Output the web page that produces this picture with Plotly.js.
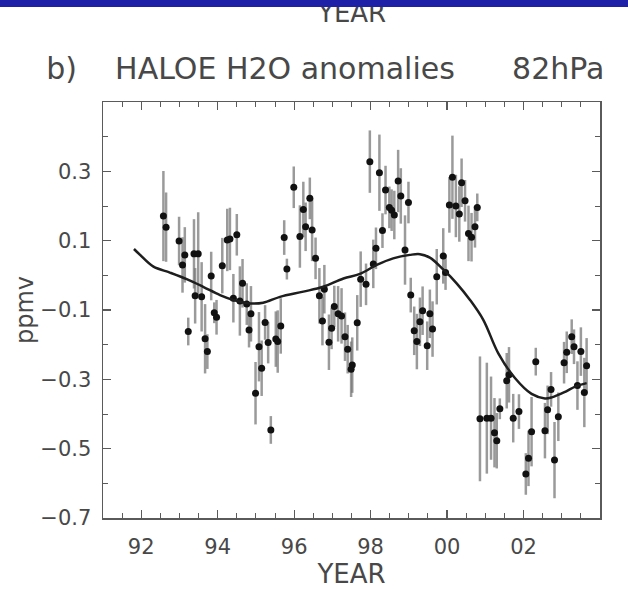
<!DOCTYPE html>
<html>
<head>
<meta charset="utf-8">
<script src="https://cdn.plot.ly/plotly-3.0.1.min.js"></script>
<style>
  html, body { margin: 0; padding: 0; background: #ffffff; }
  #wrap { position: relative; width: 628px; height: 589px; overflow: hidden; }
  #chart { position: absolute; left: 0; top: 0; width: 628px; height: 589px; }
  #topbar { position: absolute; left: 0; top: 0; width: 628px; height: 7px; background: #1f20a8; z-index: 10; }
</style>
</head>
<body>
<div id="wrap">
  <div id="chart"></div>
  <div id="topbar"></div>
</div>
<script>
// ---- monthly HALOE H2O anomalies at 82 hPa (ppmv) ----
const years = [
  1992.58, 1992.65, 1992.99, 1993.08, 1993.14, 1993.23, 1993.38, 1993.41, 1993.49, 1993.58,
  1993.67, 1993.73, 1993.83, 1993.91, 1993.97, 1994.12, 1994.25, 1994.32, 1994.41, 1994.50,
  1994.58, 1994.65, 1994.76, 1994.82, 1994.87, 1994.99, 1995.08, 1995.15, 1995.24, 1995.32,
  1995.39, 1995.52, 1995.57, 1995.65, 1995.74, 1995.81, 1995.99, 1996.15, 1996.24, 1996.30,
  1996.41, 1996.47, 1996.56, 1996.66, 1996.74, 1996.79, 1996.91, 1996.98, 1997.05, 1997.15,
  1997.24, 1997.33, 1997.40, 1997.49, 1997.52, 1997.65, 1997.74, 1997.88, 1997.98, 1998.07,
  1998.14, 1998.23, 1998.31, 1998.39, 1998.49, 1998.55, 1998.62, 1998.72, 1998.79, 1998.90,
  1998.99, 1999.05, 1999.14, 1999.21, 1999.29, 1999.36, 1999.48, 1999.55, 1999.62, 1999.73,
  1999.90, 1999.96, 2000.06, 2000.14, 2000.23, 2000.32, 2000.38, 2000.47, 2000.56, 2000.64,
  2000.73, 2000.79, 2000.86, 2001.04, 2001.15, 2001.24, 2001.30, 2001.38, 2001.56, 2001.62,
  2001.73, 2001.88, 2002.06, 2002.13, 2002.21, 2002.32, 2002.56, 2002.63, 2002.72, 2002.81,
  2002.91, 2003.06, 2003.13, 2003.26, 2003.32, 2003.41, 2003.50, 2003.59, 2003.65
];
const anomalies = [
  0.171, 0.139, 0.099, 0.030, 0.059, -0.162, 0.062, -0.059, 0.062, -0.062,
  -0.183, -0.220, -0.002, -0.108, -0.121, 0.028, 0.102, 0.105, -0.066, 0.117,
  -0.074, -0.023, -0.083, -0.158, -0.111, -0.340, -0.206, -0.268, -0.136, -0.194,
  -0.446, -0.184, -0.191, -0.146, 0.109, 0.018, 0.254, 0.112, 0.190, 0.140,
  0.222, 0.131, 0.049, -0.059, -0.132, -0.040, -0.193, -0.153, -0.090, -0.111,
  -0.117, -0.177, -0.213, -0.271, -0.259, -0.137, -0.011, -0.026, 0.328, 0.033,
  0.078, 0.296, 0.129, 0.246, 0.196, 0.188, 0.174, 0.272, 0.229, 0.073,
  0.210, -0.057, -0.160, -0.191, -0.134, -0.102, -0.203, -0.111, -0.155, -0.004,
  0.056, 0.008, 0.203, 0.283, 0.200, 0.177, 0.267, 0.215, 0.121, 0.110,
  0.140, 0.196, -0.414, -0.412, -0.412, -0.454, -0.477, -0.385, -0.304, -0.287,
  -0.412, -0.393, -0.573, -0.528, -0.451, -0.249, -0.448, -0.388, -0.329, -0.533,
  -0.408, -0.252, -0.222, -0.177, -0.206, -0.318, -0.220, -0.338, -0.261
];
const errors = [
  0.13, 0.10, 0.07, 0.08, 0.08, 0.04, 0.10, 0.08, 0.12, 0.10,
  0.10, 0.05, 0.07, 0.03, 0.05, 0.08, 0.09, 0.09, 0.07, 0.06,
  0.10, 0.07, 0.06, 0.05, 0.08, 0.09, 0.10, 0.08, 0.05, 0.06,
  0.04, 0.08, 0.09, 0.08, 0.05, 0.03, 0.06, 0.09, 0.08, 0.07,
  0.06, 0.09, 0.06, 0.08, 0.07, 0.07, 0.08, 0.06, 0.06, 0.08,
  0.08, 0.07, 0.07, 0.08, 0.08, 0.08, 0.08, 0.06, 0.09, 0.07,
  0.06, 0.11, 0.05, 0.07, 0.06, 0.06, 0.07, 0.09, 0.08, 0.10,
  0.06, 0.05, 0.07, 0.08, 0.07, 0.07, 0.07, 0.07, 0.08, 0.08,
  0.08, 0.05, 0.08, 0.12, 0.09, 0.08, 0.07, 0.06, 0.08, 0.07,
  0.06, 0.04, 0.18, 0.16, 0.12, 0.10, 0.08, 0.03, 0.08, 0.08,
  0.07, 0.05, 0.06, 0.08, 0.10, 0.04, 0.08, 0.07, 0.05, 0.11,
  0.07, 0.06, 0.06, 0.05, 0.05, 0.07, 0.07, 0.10, 0.08
];
// ---- smooth fit curve ----
const fitYears = [
  1991.81, 1991.97, 1992.32, 1992.75, 1993.19, 1993.62, 1994.06, 1994.41, 1994.85, 1995.19,
  1995.63, 1996.24, 1996.76, 1997.29, 1997.72, 1998.16, 1998.59, 1999.03, 1999.29, 1999.55,
  1999.90, 2000.25, 2000.60, 2000.95, 2001.34, 2001.78, 2002.21, 2002.56, 2002.74, 2003.09,
  2003.35, 2003.65
];
const fitValues = [
  0.076, 0.059, 0.025, 0.008, -0.011, -0.033, -0.057, -0.071, -0.081, -0.079,
  -0.062, -0.047, -0.033, -0.009, 0.004, 0.030, 0.049, 0.059, 0.061, 0.051,
  0.017, -0.023, -0.071, -0.129, -0.225, -0.297, -0.342, -0.355, -0.352, -0.336,
  -0.321, -0.311
];
// ---- axis ticks and labels ----
const xTickVals = [1992, 1994, 1996, 1998, 2000, 2002];
const xTickText = ['92', '94', '96', '98', '00', '02'];
const yTickVals = [-0.7, -0.5, -0.3, -0.1, 0.1, 0.3];
const yTickText = ['\u22120.7', '\u22120.5', '\u22120.3', '\u22120.1', '0.1', '0.3'];
const titleText = 'b)\u00a0\u00a0\u00a0\u00a0HALOE H2O anomalies\u00a0\u00a0\u00a0\u00a0\u00a0\u00a082hPa';
const xTitle = 'YEAR';
const yTitle = 'ppmv';

const FONT = 'DejaVu Sans, Liberation Sans, sans-serif';
const TXT = '#484848';
const AX = '#5a5a5a';

const points = {
  x: years, y: anomalies, type: 'scatter', mode: 'markers',
  marker: { color: '#111111', size: 7, symbol: 'circle' },
  error_y: { type: 'data', array: errors, visible: true, color: 'rgba(120,120,120,0.75)', thickness: 2.5, width: 0 },
  showlegend: false, hoverinfo: 'skip'
};
const fit = {
  x: fitYears, y: fitValues, type: 'scatter', mode: 'lines',
  line: { color: '#1e1e1e', width: 2.5, shape: 'spline', smoothing: 1 },
  showlegend: false, hoverinfo: 'skip'
};

const axisCommon = {
  showline: true, linecolor: AX, linewidth: 1.5, mirror: 'ticks',
  ticks: 'inside', ticklen: 8, tickwidth: 1.2, tickcolor: AX,
  showgrid: false, zeroline: false,
  tickfont: { family: FONT, size: 21, color: TXT }
};

const layout = {
  width: 628, height: 589,
  margin: { l: 103, r: 28, t: 102, b: 71, pad: 0 },
  paper_bgcolor: '#ffffff', plot_bgcolor: '#ffffff',
  title: {
    text: titleText, x: 0.518, xanchor: 'center', y: 0.884, yanchor: 'middle',
    font: { family: FONT, size: 30, color: TXT }
  },
  xaxis: Object.assign({}, axisCommon, {
    range: [1991, 2004], tickmode: 'array', tickvals: xTickVals, ticktext: xTickText,
    minor: { tickmode: 'linear', tick0: 1991, dtick: 0.5, ticks: 'inside', ticklen: 5, tickcolor: AX, tickwidth: 1 },
    ticklabelstandoff: 9,
    title: { text: xTitle, font: { family: FONT, size: 26, color: TXT }, standoff: 11 }
  }),
  yaxis: Object.assign({}, axisCommon, {
    range: [-0.7, 0.5], tickmode: 'array', tickvals: yTickVals, ticktext: yTickText,
    minor: { tickmode: 'linear', tick0: 0, dtick: 0.1, ticks: 'inside', ticklen: 5, tickcolor: AX, tickwidth: 1 },
    ticklabelstandoff: 6,
    title: { text: yTitle, font: { family: FONT, size: 24, color: TXT }, standoff: 0 }
  }),
  annotations: [{
    text: xTitle, xref: 'paper', yref: 'paper', x: 0.499, y: 1.172,
    xanchor: 'center', yanchor: 'bottom', showarrow: false,
    font: { family: FONT, size: 26, color: TXT }
  }]
};

Plotly.newPlot('chart', [points, fit], layout, { displayModeBar: false, staticPlot: true });
</script>
</body>
</html>
